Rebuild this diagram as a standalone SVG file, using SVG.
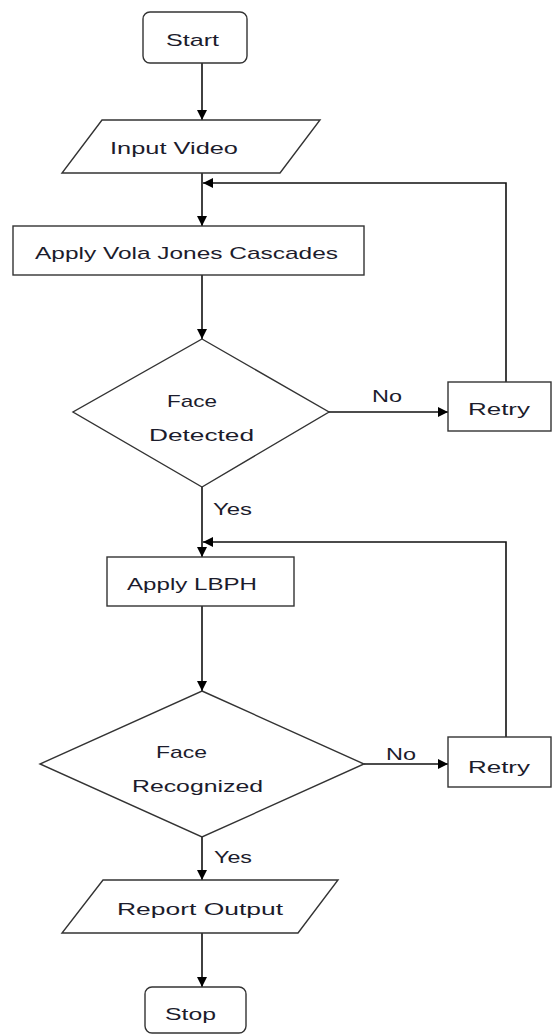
<svg xmlns="http://www.w3.org/2000/svg" width="552" height="1035" viewBox="0 0 552 1035">
<defs>
<marker id="ah" viewBox="0 0 10 10" refX="10" refY="5" markerWidth="10" markerHeight="10" markerUnits="userSpaceOnUse" orient="auto">
<path d="M0,0 L10,5 L0,10 z" fill="#000"/>
</marker>
<style>
.s{fill:#fff;stroke:#333;stroke-width:1.4}
.c{fill:none;stroke:#111;stroke-width:1.6}
text{font-family:"Liberation Sans",Arial,sans-serif;font-size:17px;fill:#1c1c2c}
</style>
</defs>
<rect width="552" height="1035" fill="#fff"/>
<g id="connectors">
<path class="c" d="M202,63 V120" marker-end="url(#ah)"/>
<path class="c" d="M202,173 V226" marker-end="url(#ah)"/>
<path class="c" d="M506,382 V183 H203" marker-end="url(#ah)"/>
<path class="c" d="M202,275 V339" marker-end="url(#ah)"/>
<path class="c" d="M329,412 H448" marker-end="url(#ah)"/>
<path class="c" d="M202,487 V557" marker-end="url(#ah)"/>
<path class="c" d="M506,737 V542 H203" marker-end="url(#ah)"/>
<path class="c" d="M202,606 V691" marker-end="url(#ah)"/>
<path class="c" d="M364,764 H448" marker-end="url(#ah)"/>
<path class="c" d="M202,837 V880" marker-end="url(#ah)"/>
<path class="c" d="M202,933 V987" marker-end="url(#ah)"/>
<text x="372" y="402" textLength="30" lengthAdjust="spacingAndGlyphs">No</text>
<text x="213" y="515" textLength="39" lengthAdjust="spacingAndGlyphs">Yes</text>
<text x="386" y="760" textLength="30" lengthAdjust="spacingAndGlyphs">No</text>
<text x="214" y="863" textLength="38" lengthAdjust="spacingAndGlyphs">Yes</text>
</g>
<g id="start">
<rect class="s" x="143" y="12" width="104" height="51" rx="7"/>
<text x="166" y="46" textLength="53" lengthAdjust="spacingAndGlyphs">Start</text>
</g>
<g id="input">
<path class="s" d="M102,120 H320 L280,173 H62 z"/>
<text x="110" y="154" textLength="128" lengthAdjust="spacingAndGlyphs">Input Video</text>
</g>
<g id="viola">
<rect class="s" x="13" y="226" width="351" height="49"/>
<text x="35" y="259" textLength="303" lengthAdjust="spacingAndGlyphs">Apply Vola Jones Cascades</text>
</g>
<g id="detected">
<path class="s" d="M202,339 L329,412 L202,487 L73,412 z"/>
<text x="167" y="407" textLength="50" lengthAdjust="spacingAndGlyphs">Face</text>
<text x="149" y="441" textLength="105" lengthAdjust="spacingAndGlyphs">Detected</text>
</g>
<g id="retry1">
<rect class="s" x="448" y="382" width="103" height="49"/>
<text x="468" y="415" textLength="62" lengthAdjust="spacingAndGlyphs">Retry</text>
</g>
<g id="lbph">
<rect class="s" x="107" y="557" width="187" height="49"/>
<text x="127" y="590" textLength="130" lengthAdjust="spacingAndGlyphs">Apply LBPH</text>
</g>
<g id="recognized">
<path class="s" d="M202,691 L364,764 L202,837 L40,764 z"/>
<text x="156" y="758" textLength="51" lengthAdjust="spacingAndGlyphs">Face</text>
<text x="132" y="792" textLength="131" lengthAdjust="spacingAndGlyphs">Recognized</text>
</g>
<g id="retry2">
<rect class="s" x="448" y="737" width="103" height="50"/>
<text x="468" y="773" textLength="62" lengthAdjust="spacingAndGlyphs">Retry</text>
</g>
<g id="report">
<path class="s" d="M103,880 H338 L298,933 H62 z"/>
<text x="117" y="915" textLength="166" lengthAdjust="spacingAndGlyphs">Report Output</text>
</g>
<g id="stop">
<rect class="s" x="145" y="987" width="101" height="46" rx="7"/>
<text x="165" y="1020" textLength="51" lengthAdjust="spacingAndGlyphs">Stop</text>
</g>
</svg>
